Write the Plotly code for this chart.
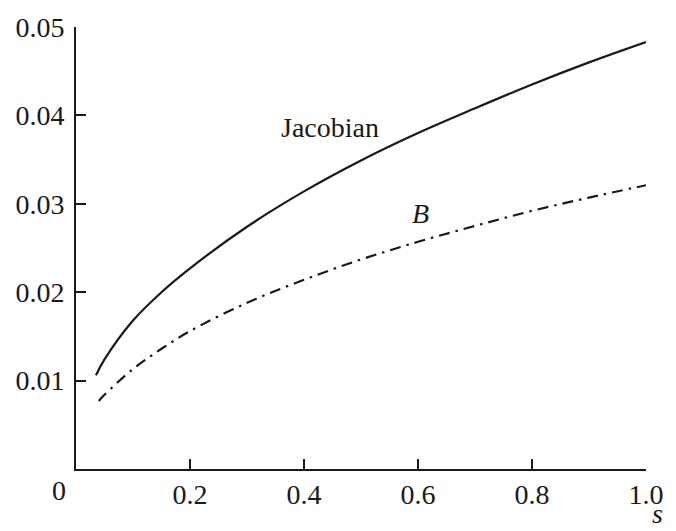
import plotly.graph_objects as go

# Jacobian and B versus s
s_jac = [0.035, 0.05, 0.1, 0.15, 0.2, 0.3, 0.4, 0.5, 0.6, 0.7, 0.8, 0.9, 1.0]
jacobian = [0.0106, 0.0124, 0.0168, 0.0200, 0.0227, 0.0274, 0.0314, 0.0349, 0.0380, 0.0408, 0.0435, 0.0460, 0.0483]

s_b = [0.04, 0.05, 0.1, 0.15, 0.2, 0.3, 0.4, 0.5, 0.6, 0.7, 0.8, 0.9, 1.0]
b_vals = [0.0077, 0.0084, 0.0113, 0.0136, 0.0156, 0.0188, 0.0214, 0.0237, 0.0257, 0.0275, 0.0292, 0.0307, 0.0321]

x_ticks = [0, 0.2, 0.4, 0.6, 0.8, 1.0]
x_tick_text = ["", "0.2", "0.4", "0.6", "0.8", "1.0"]
y_ticks = [0, 0.01, 0.02, 0.03, 0.04, 0.05]
y_tick_text = ["", "0.01", "0.02", "0.03", "0.04", "0.05"]

INK = "#1a1a1a"
FONT = "Liberation Serif"
SIZE = 28

fig = go.Figure()
fig.add_trace(go.Scatter(x=s_jac, y=jacobian, mode="lines",
                         line=dict(color=INK, width=2.2, shape="spline"),
                         showlegend=False))
fig.add_trace(go.Scatter(x=s_b, y=b_vals, mode="lines",
                         line=dict(color=INK, width=2.2, shape="spline",
                                   dash="11px,6px,2.5px,6px"),
                         showlegend=False))

axis_common = dict(showgrid=False, zeroline=False, showline=True,
                   linecolor=INK, linewidth=1.6, ticks="inside", ticklen=10,
                   tickwidth=1.6, tickcolor=INK,
                   tickfont=dict(family=FONT, size=SIZE, color=INK))

fig.update_xaxes(range=[0, 1.0], tickvals=x_ticks, ticktext=x_tick_text,
                 ticklabelstandoff=0, **axis_common)
fig.update_yaxes(range=[0, 0.05], tickvals=y_ticks, ticktext=y_tick_text,
                 ticklabelstandoff=4, **axis_common)

fig.add_annotation(x=0.357, y=0.0386, text="Jacobian", showarrow=False,
                   xanchor="left", yanchor="middle",
                   font=dict(family=FONT, size=SIZE, color=INK))
fig.add_annotation(x=0.605, y=0.0289, text="<i>B</i>", showarrow=False,
                   xanchor="center", yanchor="middle",
                   font=dict(family=FONT, size=SIZE, color=INK))
# corner "0" label and axis title "s", placed in paper coordinates
fig.add_annotation(x=-0.03, y=0, xref="paper", yref="paper", text="0",
                   showarrow=False, xanchor="center", yanchor="top", yshift=-4,
                   font=dict(family=FONT, size=SIZE, color=INK))
fig.add_annotation(x=1.021, y=0, xref="paper", yref="paper", text="<i>s</i>",
                   showarrow=False, xanchor="center", yanchor="bottom", yshift=-62,
                   font=dict(family=FONT, size=SIZE, color=INK))

fig.update_layout(width=676, height=531,
                  margin=dict(l=76, r=30, t=20, b=62),
                  paper_bgcolor="white", plot_bgcolor="white")

fig.write_html("out.html")
